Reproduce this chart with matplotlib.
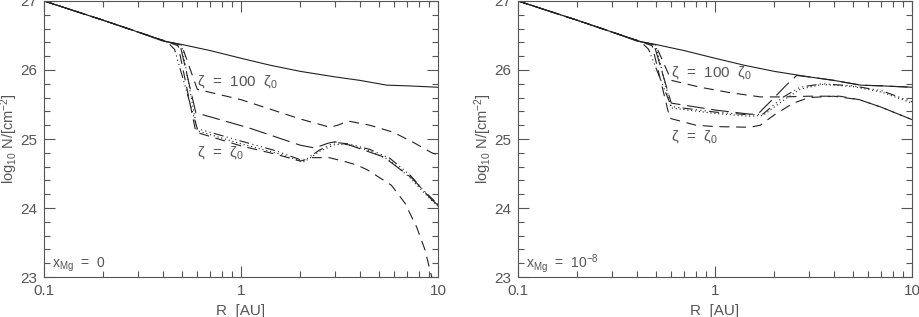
import numpy as np
import matplotlib
matplotlib.use("Agg")
import matplotlib.pyplot as plt
from matplotlib.ticker import FixedLocator, MultipleLocator, NullFormatter

plt.rcParams['font.family'] = ['Liberation Sans', 'DejaVu Sans']
plt.rcParams['mathtext.default'] = 'regular'

# shared inner part (all curves follow the solid line inside ~0.45 AU)
r_solid = [0.1, 0.2, 0.3, 0.4, 0.5, 0.7, 1.0, 1.4, 2.0, 3.0, 4.0, 5.5, 7.0, 10.0]
n_solid = [27.0, 26.72, 26.55, 26.42, 26.37, 26.28, 26.17, 26.07, 25.98, 25.90, 25.85, 25.78, 25.77, 25.75]
r_inner = [0.1, 0.2, 0.3, 0.42]
n_inner = [27.0, 26.72, 26.55, 26.41]

# left panel, x_Mg = 0
L_hi_r = [0.50, 0.60, 1.0, 1.45, 2.0, 2.83, 3.1, 3.5, 4.5, 5.9, 7.4, 9.3, 10.0]
L_hi_n = [26.36, 25.72, 25.57, 25.42, 25.29, 25.17, 25.20, 25.26, 25.20, 25.10, 24.96, 24.80, 24.77]
L_ld_r = [0.49, 0.59, 1.1, 1.5, 2.0, 2.37, 2.77, 3.0, 3.57, 4.4, 5.3, 7.4, 9.3, 10.0]
L_ld_n = [26.37, 25.38, 25.16, 25.03, 24.91, 24.87, 24.94, 24.96, 24.91, 24.82, 24.74, 24.43, 24.12, 24.04]
L_dd_r = [0.46, 0.60, 1.0, 1.5, 2.0, 2.1, 2.5, 3.0, 3.5, 4.5, 5.7, 7.2, 8.5, 10.0]
L_dd_n = [26.30, 25.15, 24.97, 24.83, 24.70, 24.69, 24.84, 24.95, 24.93, 24.85, 24.72, 24.48, 24.25, 24.05]
L_dt_r = [0.50, 0.60, 1.0, 1.5, 2.0, 2.1, 2.5, 3.0, 3.5, 4.5, 5.7, 7.2, 8.5, 10.0]
L_dt_n = [26.36, 25.12, 24.93, 24.80, 24.68, 24.67, 24.82, 24.92, 24.92, 24.83, 24.69, 24.44, 24.22, 24.02]
L_lo_r = [0.48, 0.59, 1.0, 1.5, 2.0, 2.3, 2.8, 3.4, 3.9, 4.4, 5.8, 6.8, 7.8, 8.6, 9.1, 9.4]
L_lo_n = [26.35, 25.10, 24.90, 24.78, 24.68, 24.73, 24.73, 24.67, 24.62, 24.55, 24.33, 24.07, 23.72, 23.39, 23.10, 22.95]

# right panel, x_Mg = 1e-8
R_hi_r = [0.50, 0.60, 0.84, 1.2, 1.7, 2.2, 3.0, 4.3, 5.4, 7.0, 10.0]
R_hi_n = [26.36, 25.85, 25.75, 25.67, 25.61, 25.61, 25.62, 25.62, 25.57, 25.46, 25.28]
R_ld_r = [0.49, 0.60, 1.0, 1.5, 1.65, 2.0, 2.3, 2.6, 3.0, 4.0, 5.5, 7.0, 10.0]
R_ld_n = [26.37, 25.52, 25.42, 25.36, 25.36, 25.60, 25.78, 25.92, 25.90, 25.85, 25.78, 25.77, 25.75]
R_dd_r = [0.46, 0.60, 1.0, 1.5, 1.75, 2.2, 2.7, 3.5, 5.0, 7.0, 10.0]
R_dd_n = [26.30, 25.47, 25.39, 25.35, 25.36, 25.60, 25.75, 25.80, 25.77, 25.70, 25.54]
R_dt_r = [0.50, 0.60, 1.0, 1.5, 1.75, 2.2, 2.7, 3.5, 5.0, 7.0, 10.0]
R_dt_n = [26.36, 25.45, 25.37, 25.33, 25.34, 25.55, 25.72, 25.79, 25.76, 25.68, 25.52]
R_lo_r = [0.48, 0.59, 0.8, 1.0, 1.5, 1.7, 2.0, 2.5, 3.0, 4.0, 5.4, 7.0, 10.0]
R_lo_n = [26.35, 25.30, 25.20, 25.18, 25.17, 25.20, 25.35, 25.52, 25.60, 25.62, 25.57, 25.46, 25.28]

styles = {
    'hi': dict(dashes=(9, 6)),
    'ld': dict(dashes=(16, 6)),
    'dd': dict(dashes=(9, 3, 1, 3, 1, 3, 1, 3)),
    'dt': dict(dashes=(1, 2.5)),
    'lo': dict(dashes=(9, 6)),
}

grey = '#555555'
lc = '#222222'
lw = 0.8

fig = plt.figure(figsize=(9.2, 3.17), dpi=100)
panels = [
    ([0.0478, 0.126, 0.4283, 0.871],
     [(L_hi_r, L_hi_n, 'hi'), (L_ld_r, L_ld_n, 'ld'), (L_dd_r, L_dd_n, 'dd'),
      (L_dt_r, L_dt_n, 'dt'), (L_lo_r, L_lo_n, 'lo')],
     r'x$_{Mg}$  =  0', (25.83, 24.81)),
    ([0.563, 0.126, 0.4283, 0.871],
     [(R_hi_r, R_hi_n, 'hi'), (R_ld_r, R_ld_n, 'ld'), (R_dd_r, R_dd_n, 'dd'),
      (R_dt_r, R_dt_n, 'dt'), (R_lo_r, R_lo_n, 'lo')],
     r'x$_{Mg}$  =  10$^{-8}$', (25.96, 25.03)),
]

for pos, curves, corner, (y100, y0) in panels:
    ax = fig.add_axes(pos)
    ax.plot(r_solid, n_solid, color=lc, lw=lw)
    for r, n, key in curves:
        ax.plot(r_inner + r, n_inner + n, color=lc, lw=lw, **styles[key])
    ax.set_xscale('log')
    ax.set_xlim(0.1, 10)
    ax.set_ylim(23, 27)
    ax.xaxis.set_major_locator(FixedLocator([0.1, 1, 10]))
    ax.set_xticklabels(['0.1', '1', '10'])
    ax.xaxis.set_minor_formatter(NullFormatter())
    ax.yaxis.set_major_locator(MultipleLocator(1))
    ax.yaxis.set_minor_locator(MultipleLocator(0.2))
    ax.tick_params(which='both', direction='in', top=True, right=True,
                   color=grey, labelcolor=grey, labelsize=11, width=0.8)
    ax.tick_params(which='major', length=8, pad=5)
    ax.tick_params(which='minor', length=4)
    for s in ax.spines.values():
        s.set_color(grey)
        s.set_linewidth(0.8)
    ax.set_xlabel('R  [AU]', color=grey, fontsize=11, labelpad=4)
    ax.set_ylabel(r'log$_{10}$ N/[cm$^{-2}$]', color=grey, fontsize=10.5)
    ax.yaxis.set_label_coords(-0.062, 0.5)
    ax.text(0.6, y100, r'ζ  =  100  ζ$_0$', color=grey, fontsize=11, va='center')
    ax.text(0.6, y0, r'ζ  =  ζ$_0$', color=grey, fontsize=11, va='center')
    ax.text(0.02, 0.035, corner, transform=ax.transAxes, color=grey, fontsize=10)

fig.savefig('out.png', dpi=100)
